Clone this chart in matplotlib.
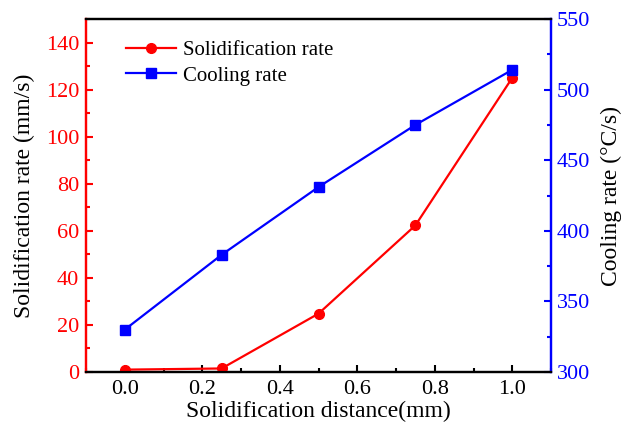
import matplotlib
matplotlib.use("Agg")
import matplotlib.pyplot as plt
from matplotlib.ticker import MultipleLocator

plt.rcParams['font.family'] = ['Liberation Serif', 'DejaVu Serif']
plt.rcParams['mathtext.fontset'] = 'stix'

distance = [0.0, 0.25, 0.5, 0.75, 1.0]
solid_rate = [1.0, 1.5, 24.8, 62.3, 125.0]
cooling_rate = [330, 383, 431, 475, 514]

fig = plt.figure(figsize=(6.22, 4.36), dpi=100)
ax = fig.add_axes([86/622, 1-372/436, (551-86)/622, (372-19)/436])
ax2 = ax.twinx()

l1, = ax.plot(distance, solid_rate, color='#ff0000', marker='o', markersize=7, lw=1.6,
              label='Solidification rate', zorder=3)
l2, = ax2.plot(distance, cooling_rate, color='#0000ff', marker='s', markersize=6.5, lw=1.6,
               label='Cooling rate', zorder=3)

ax.set_xlim(-0.1, 1.1)
ax.set_ylim(0, 150)
ax2.set_ylim(300, 550)

ax.xaxis.set_minor_locator(MultipleLocator(0.1))
ax.yaxis.set_minor_locator(MultipleLocator(10))
ax2.yaxis.set_major_locator(MultipleLocator(50))
ax2.yaxis.set_minor_locator(MultipleLocator(25))
ax.set_yticks(range(0, 141, 20))
ax.set_xticks([0.0, 0.2, 0.4, 0.6, 0.8, 1.0])
ax.set_xticklabels(['0.0', '0.2', '0.4', '0.6', '0.8', '1.0'])

fs_tick = 16
fs_label = 17
ax.tick_params(axis='x', which='major', direction='in', length=5, width=1.5, labelsize=fs_tick, colors='black', pad=6)
ax.tick_params(axis='x', which='minor', direction='in', length=3, width=1.5)
ax.tick_params(axis='y', which='major', direction='in', length=5, width=1.5, labelsize=fs_tick, colors='#ff0000', pad=5)
ax.tick_params(axis='y', which='minor', direction='in', length=3, width=1.5, colors='#ff0000')
ax2.tick_params(axis='y', which='major', direction='in', length=5, width=1.5, labelsize=fs_tick, colors='#0000ff', pad=4)
ax2.tick_params(axis='y', which='minor', direction='in', length=3, width=1.5, colors='#0000ff')

for a in (ax, ax2):
    for s in a.spines.values():
        s.set_linewidth(1.6)
    a.spines['top'].set_color('black')
    a.spines['bottom'].set_color('black')
ax.spines['left'].set_color('#ff0000')
ax2.spines['left'].set_color('#ff0000')
ax.spines['right'].set_color('#0000ff')
ax2.spines['right'].set_color('#0000ff')

ax.set_xlabel('Solidification distance(mm)', fontsize=fs_label, labelpad=1)
ax.set_ylabel('Solidification rate (mm/s)', fontsize=fs_label, labelpad=8)
ax2.set_ylabel('Cooling rate (°C/s)', fontsize=fs_label, labelpad=8)

ax.legend([l1, l2], ['Solidification rate', 'Cooling rate'], loc='upper left',
          bbox_to_anchor=(0.06, 0.975), frameon=False, fontsize=15, handlelength=2.4,
          handletextpad=0.3, labelspacing=0.3, borderaxespad=0.2)

fig.savefig('out.png', dpi=100)
